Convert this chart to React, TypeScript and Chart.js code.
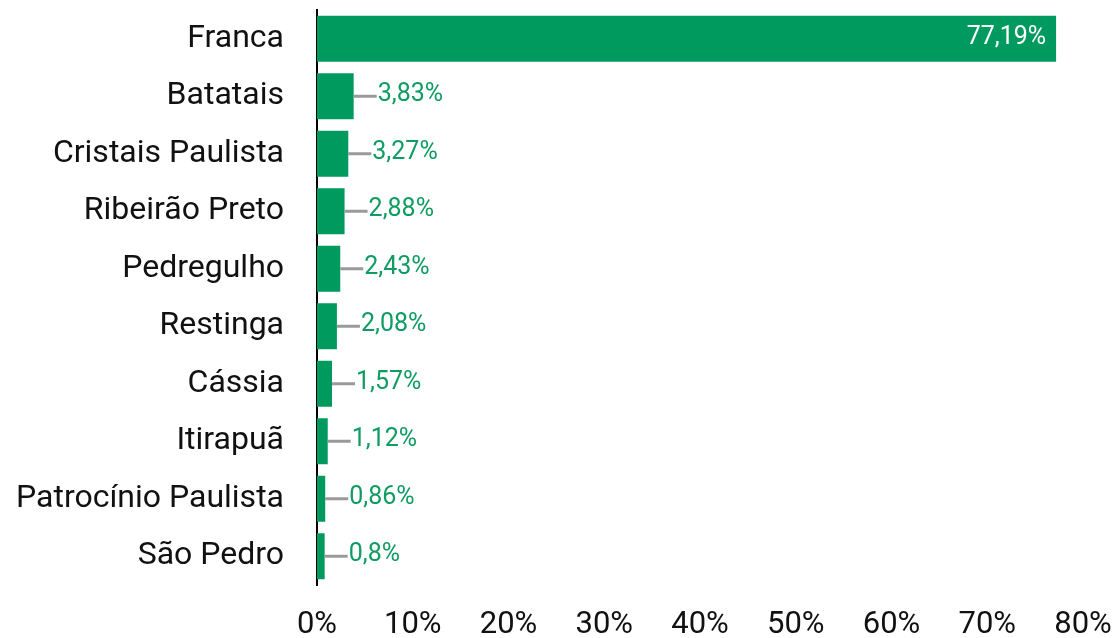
import { useEffect, useRef } from 'react';
import { Chart, registerables } from 'chart.js';

Chart.register(...registerables);

const categories = [
  'Franca',
  'Batatais',
  'Cristais Paulista',
  'Ribeirão Preto',
  'Pedregulho',
  'Restinga',
  'Cássia',
  'Itirapuã',
  'Patrocínio Paulista',
  'São Pedro',
];
const values = [77.19, 3.83, 3.27, 2.88, 2.43, 2.08, 1.57, 1.12, 0.86, 0.8];
const xTickMin = 0;
const xTickMax = 80;
const xTickStep = 10;

const BAR_COLOR = '#009A5E';
const LABEL_GREEN = '#0E9C62';
const LEADER_GRAY = '#9A9A9A';

const fmt = (v: number) => String(v).replace('.', ',') + '%';

const valueLabelPlugin = {
  id: 'valueLabelPlugin',
  afterDatasetsDraw(chart: any) {
    const ctx = chart.ctx;
    const meta = chart.getDatasetMeta(0);
    meta.data.forEach((bar: any, i: number) => {
      const text = fmt(values[i]);
      ctx.save();
      ctx.font = '25px Roboto';
      ctx.textBaseline = 'middle';
      const w = ctx.measureText(text).width;
      const base = bar.base;
      const end = bar.x;
      const y = bar.y;
      if (end - base > w + 30) {
        ctx.fillStyle = '#FFFFFF';
        ctx.textAlign = 'right';
        ctx.fillText(text, end - 10, y - 1.5);
      } else {
        ctx.strokeStyle = LEADER_GRAY;
        ctx.lineWidth = 3;
        ctx.beginPath();
        ctx.moveTo(end, y);
        ctx.lineTo(end + 23, y);
        ctx.stroke();
        ctx.fillStyle = LABEL_GREEN;
        ctx.textAlign = 'left';
        ctx.fillText(text, end + 24, y - 1.5);
      }
      ctx.restore();
    });
  },
};

export default function App() {
  const canvasRef = useRef<HTMLCanvasElement | null>(null);

  useEffect(() => {
    const canvas = canvasRef.current;
    if (!canvas) return;
    const chart = new Chart(canvas, {
      type: 'bar',
      data: {
        labels: categories,
        datasets: [
          {
            data: values,
            backgroundColor: BAR_COLOR,
            borderWidth: 0,
            barPercentage: 0.8,
            categoryPercentage: 1,
          },
        ],
      },
      options: {
        indexAxis: 'y',
        responsive: false,
        animation: false,
        devicePixelRatio: 1,
        layout: { padding: { top: 10, right: 34, left: 0, bottom: 0 } },
        plugins: {
          legend: { display: false },
          tooltip: { enabled: false },
          title: { display: false },
        },
        scales: {
          x: {
            type: 'linear',
            min: xTickMin,
            max: xTickMax,
            grid: { display: false, drawTicks: false },
            border: { display: false },
            ticks: {
              stepSize: xTickStep,
              color: '#111111',
              padding: 22,
              font: { family: 'Roboto', size: 31, lineHeight: 1.15 },
              callback: (v: any) => v + '%',
            },
            afterFit: (scale: any) => {
              scale.height = 53;
              scale.paddingLeft = 0;
              scale.paddingRight = 0;
            },
          },
          y: {
            type: 'category',
            grid: { display: false, drawTicks: false },
            border: { display: true, color: '#000000', width: 2 },
            ticks: {
              color: '#111111',
              padding: 33,
              font: { family: 'Roboto', size: 32 },
            },
            afterFit: (scale: any) => {
              scale.width = 317;
              scale.paddingTop = 0;
              scale.paddingBottom = 0;
            },
          },
        },
      },
      plugins: [valueLabelPlugin],
    });
    return () => chart.destroy();
  }, []);

  return (
    <div style={{ position: 'absolute', left: 0, top: 0, width: 1117, height: 638, background: '#fff' }}>
      <canvas ref={canvasRef} width={1117} height={638} />
    </div>
  );
}
